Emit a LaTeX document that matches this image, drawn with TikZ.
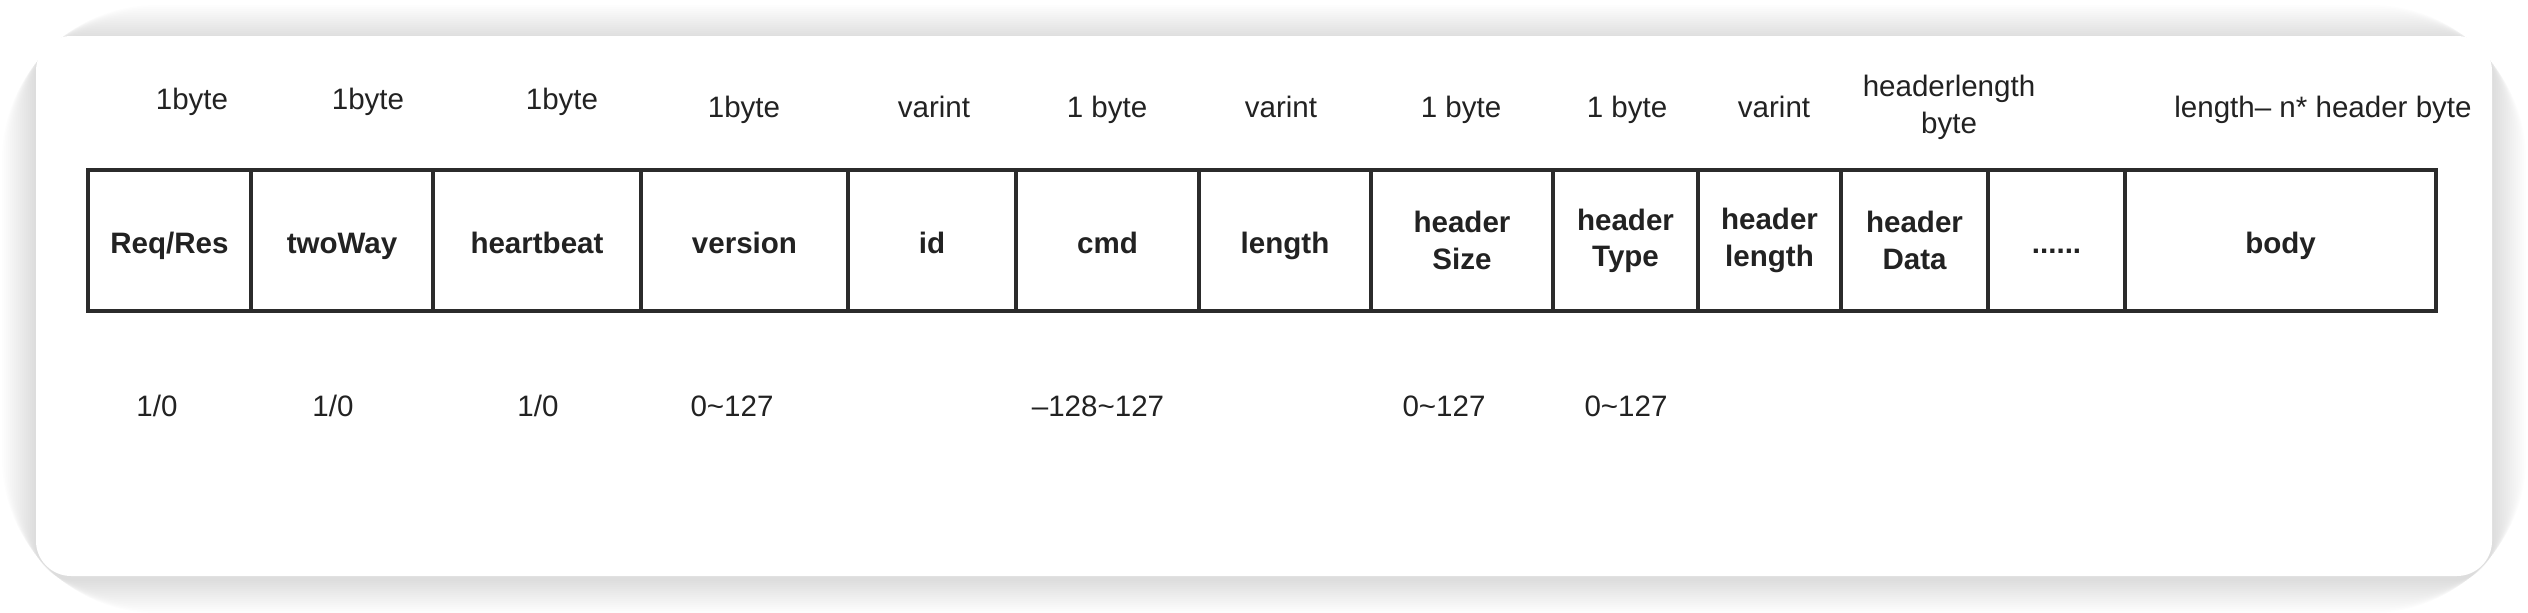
\documentclass[tikz,border=0pt]{standalone}
\usepackage{fontspec}
\setmainfont{Liberation Sans}
\definecolor{linegray}{HTML}{2B2B2B}
\definecolor{txtgray}{HTML}{222222}
\tikzset{
	cell/.style={draw=linegray, line width=1.2pt, minimum height=1.41cm, inner sep=0pt,
		align=center, text=txtgray, font=\bfseries\fontsize{8.4}{10.3}\selectfont},
	onecell/.style={cell, text height=0.74em, text depth=0pt},
	sizelabel/.style={inner sep=0pt, align=center, text=txtgray,
		font=\fontsize{8.4}{10.5}\selectfont},
	onelabel/.style={sizelabel, text height=0.72em, text depth=0pt},
}
\begin{document}
\begin{tikzpicture}[x=0.01cm, y=-0.01cm]
	\useasboundingbox (0,0) rectangle (2528,612);
	\fill[white] (0,0) rectangle (2528,612);
	% card with soft shadow
	\foreach \s in {2,4,...,34}
		\fill[black, opacity=0.009, rounded corners=10+\s] (36-\s,36-\s+3) rectangle (2492+\s,576+\s+3);
	\fill[white, rounded corners=10] (36,36) rectangle (2492,576);
	% frame cells
	\node[onecell, minimum width=1.63cm] (reqres) at (169.5,240.5) {Req/Res};
	\node[onecell, minimum width=1.82cm] (twoway) at (342,240.5) {twoWay};
	\node[onecell, minimum width=2.08cm] (heartbeat) at (537,240.5) {heartbeat};
	\node[onecell, minimum width=2.07cm] (version) at (744.5,240.5) {version};
	\node[onecell, minimum width=1.68cm] (id) at (932,240.5) {id};
	\node[onecell, minimum width=1.83cm] (cmd) at (1107.5,240.5) {cmd};
	\node[onecell, minimum width=1.72cm] (length) at (1285,240.5) {length};
	\node[cell, minimum width=1.82cm] (hsize) at (1462,240.5) {header\\Size};
	\node[cell, minimum width=1.45cm] (htype) at (1625.5,240.5) {header\\Type};
	\node[cell, minimum width=1.43cm] (hlength) at (1769.5,240.5) {header\\length};
	\node[cell, minimum width=1.47cm] (hdata) at (1914.5,240.5) {header\\Data};
	\node[onecell, minimum width=1.37cm] (more) at (2056.5,240.5) {......};
	\node[onecell, minimum width=3.11cm] (body) at (2280.5,240.5) {body};
	% sizes
	\node[onelabel] (sreqres) at (192,97) {1byte};
	\node[onelabel] (stwoway) at (368,97) {1byte};
	\node[onelabel] (sheartbeat) at (562,97) {1byte};
	\node[onelabel] (sversion) at (744,105) {1byte};
	\node[onelabel] (sid) at (934,105) {varint};
	\node[onelabel] (scmd) at (1107,105) {1 byte};
	\node[onelabel] (slength) at (1281,105) {varint};
	\node[onelabel] (shsize) at (1461,105) {1 byte};
	\node[onelabel] (shtype) at (1627,105) {1 byte};
	\node[onelabel] (shlength) at (1774,105) {varint};
	\node[sizelabel] (shdata) at (1949,107) {headerlength\\byte};
	\node[onelabel] (sbody) at (2323,105) {length– n* header byte};
	% value ranges
	\node[onelabel] (rreqres) at (157,404) {1/0};
	\node[onelabel] (rtwoway) at (333,404) {1/0};
	\node[onelabel] (rheartbeat) at (538,404) {1/0};
	\node[onelabel] (rversion) at (732,404) {0\textasciitilde127};
	\node[onelabel] (rcmd) at (1098,404) {–128\textasciitilde127};
	\node[onelabel] (rhsize) at (1444,404) {0\textasciitilde127};
	\node[onelabel] (rhtype) at (1626,404) {0\textasciitilde127};
\end{tikzpicture}
\end{document}
